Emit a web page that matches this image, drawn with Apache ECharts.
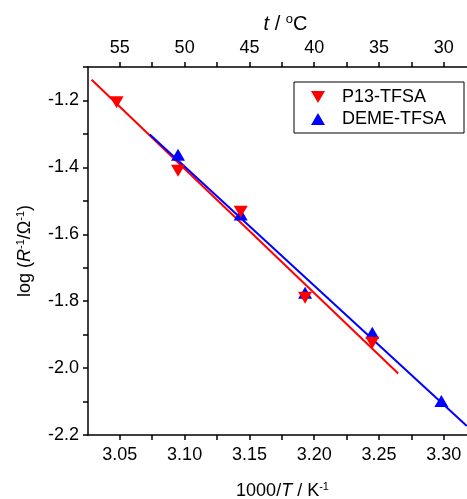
<!DOCTYPE html>
<html>
<head>
<meta charset="utf-8">
<script src="https://cdn.jsdelivr.net/npm/echarts@6/dist/echarts.min.js"></script>
<style>
  html, body { margin: 0; padding: 0; background: #fff; }
  #chart { width: 467px; height: 499px; }
</style>
</head>
<body>
<div id="chart"></div>
<script>
// tick positions (1000/T) and the matching temperature labels on the top axis
const xTickValues = [3.05, 3.10, 3.15, 3.20, 3.25, 3.30];
const xMinorValues = [3.075, 3.125, 3.175, 3.225, 3.275];
const tempLabels = ['55', '50', '45', '40', '35', '30'];
const yTickValues = [-2.2, -2.0, -1.8, -1.6, -1.4, -1.2];
const yMinorValues = [-2.1, -1.9, -1.7, -1.5, -1.3, -1.1];

// measured points
const p13X = [3.0475, 3.0949, 3.1433, 3.1930, 3.2449];
const p13Y = [-1.205, -1.410, -1.533, -1.790, -1.924];
const demeX = [3.0949, 3.1433, 3.1930, 3.2449, 3.2982];
const demeY = [-1.362, -1.541, -1.775, -1.894, -2.098];

// linear fits (start / end)
const p13FitX = [3.0282, 3.2649];
const p13FitY = [-1.138, -2.016];
const demeFitX = [3.0731, 3.3179];
const demeFitY = [-1.302, -2.173];

const zip = (xs, ys) => xs.map((x, i) => [x, ys[i]]);

const font = '"Liberation Sans", Arial, sans-serif';
const black = '#000';

const richName = {
    i: { fontStyle: 'italic', fontSize: 18, fontFamily: font, color: black },
    sup: { fontSize: 11, fontFamily: font, color: black, padding: [0, 0, 9, 0] }
};

const axisLineStyle = { show: true, lineStyle: { color: black, width: 1.5 } };
const tickStyle = { color: black, width: 1.5 };

const chart = echarts.init(document.getElementById('chart'));
chart.setOption({
    animation: false,
    textStyle: { fontFamily: font },
    grid: { left: 88, right: 0, top: 67, bottom: 64, outerBoundsMode: 'none', containLabel: false },
    legend: {
        orient: 'vertical',
        left: 294,
        top: 82,
        padding: [6, 18, 5, 17],
        itemGap: 4,
        itemWidth: 14,
        itemHeight: 12,
        borderColor: black,
        borderWidth: 1,
        textStyle: { fontSize: 18, color: black, fontFamily: font, padding: [0, 0, 0, 12] },
        data: [
            { name: 'P13-TFSA', icon: 'path://M0,0 L14,0 L7,12 Z' },
            { name: 'DEME-TFSA', icon: 'triangle' }
        ]
    },
    xAxis: [
        {
            type: 'value',
            position: 'bottom',
            min: 3.0254,
            max: 3.318,
            name: '1000/{i|T} / K{sup|-1}',
            nameLocation: 'middle',
            nameGap: 46,
            nameTextStyle: { fontSize: 18, color: black, fontFamily: font, rich: richName,
                padding: [0, 0, 0, 10] },
            axisLine: axisLineStyle,
            axisTick: { show: true, length: 5, lineStyle: tickStyle,
                customValues: xTickValues.concat(xMinorValues) },
            axisLabel: { customValues: xTickValues, fontSize: 18, color: black, margin: 11,
                formatter: v => v.toFixed(2) },
            splitLine: { show: false }
        },
        {
            type: 'value',
            position: 'top',
            min: 3.0254,
            max: 3.318,
            name: '{i|t} / {sup|o}C',
            nameLocation: 'middle',
            nameGap: 32,
            nameTextStyle: { fontSize: 20, color: black, fontFamily: font,
                padding: [0, 0, 0, 16],
                rich: {
                    i: { fontStyle: 'italic', fontSize: 20, fontFamily: font, color: black },
                    sup: { fontSize: 13, fontFamily: font, color: black, padding: [0, 0, 9, 0] }
                } },
            axisLine: axisLineStyle,
            axisTick: { show: true, length: 5, lineStyle: tickStyle,
                customValues: xTickValues.concat(xMinorValues) },
            axisLabel: { customValues: xTickValues, fontSize: 18, color: black, margin: 10,
                formatter: v => tempLabels[xTickValues.findIndex(t => Math.abs(t - v) < 1e-6)] },
            splitLine: { show: false }
        }
    ],
    yAxis: {
        type: 'value',
        min: -2.2,
        max: -1.1,
        name: 'log ({i|R}{sup|-1}/Ω{sup|-1})',
        nameLocation: 'middle',
        nameRotate: 90,
        nameGap: 53,
        nameTextStyle: { fontSize: 18, color: black, fontFamily: font, rich: richName },
        axisLine: axisLineStyle,
        axisTick: { show: true, length: 5, lineStyle: tickStyle,
            customValues: yTickValues.concat(yMinorValues) },
        axisLabel: { customValues: yTickValues, fontSize: 18, color: black, margin: 9,
            formatter: v => v.toFixed(1) },
        splitLine: { show: false }
    },
    series: [
        {
            name: 'P13-TFSA fit',
            type: 'line',
            data: zip(p13FitX, p13FitY),
            showSymbol: false,
            lineStyle: { color: '#ff0000', width: 2 },
            z: 2
        },
        {
            name: 'DEME-TFSA fit',
            type: 'line',
            data: zip(demeFitX, demeFitY),
            showSymbol: false,
            lineStyle: { color: '#0000ff', width: 2 },
            z: 2
        },
        {
            name: 'P13-TFSA',
            type: 'scatter',
            data: zip(p13X, p13Y),
            symbol: 'triangle',
            symbolRotate: 180,
            symbolSize: [14, 12],
            itemStyle: { color: '#ff0000', opacity: 1 },
            z: 4
        },
        {
            name: 'DEME-TFSA',
            type: 'scatter',
            data: zip(demeX, demeY),
            symbol: 'triangle',
            symbolSize: [14, 12],
            itemStyle: { color: '#0000ff', opacity: 1 },
            z: 3
        }
    ]
});
</script>
</body>
</html>
